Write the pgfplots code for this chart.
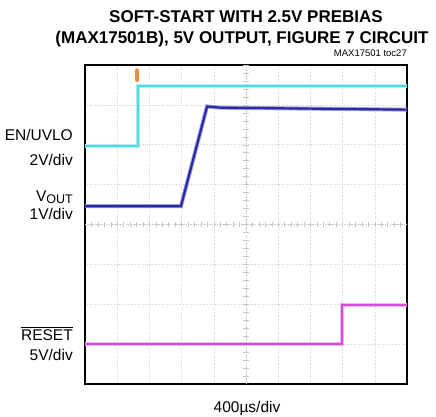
\documentclass[border=0pt]{standalone}
\usepackage{fontspec}
\setmainfont{Liberation Sans}
\usepackage{pgfplots}
\pgfplotsset{compat=1.18}
\definecolor{cyantr}{RGB}{80,218,224}
\definecolor{bluetr}{RGB}{42,42,168}
\definecolor{magtr}{RGB}{215,75,215}
\definecolor{orgtr}{RGB}{238,140,60}
\begin{document}
\begin{tikzpicture}
\path[use as bounding box] (0pt,0pt) rectangle (436pt,417pt);
\begin{axis}[at={(85pt,33pt)}, anchor=south west, scale only axis,
  width=322pt, height=319pt, xmin=0, xmax=10, ymin=0, ymax=8,
  xtick={1,...,9}, ytick={1,...,7}, xticklabels={}, yticklabels={},
  major tick length=0pt, grid=major,
  grid style={gray!35, dotted, line width=0.6pt},
  axis line style={line width=2.5pt}, clip=true]
% centre graticule with small ticks
\draw[gray!50, dotted, line width=0.7pt] (axis cs:0,4) -- (axis cs:10,4);
\draw[gray!50, dotted, line width=0.7pt] (axis cs:5,0) -- (axis cs:5,8);
\pgfplotsinvokeforeach{0.2,0.4,...,9.9}{
  \draw[gray!45, line width=0.5pt] (axis cs:#1,3.93) -- (axis cs:#1,4.07);
}
\pgfplotsinvokeforeach{0.2,0.4,...,7.9}{
  \draw[gray!45, line width=0.5pt] (axis cs:4.92,#1) -- (axis cs:5.08,#1);
}
% EN/UVLO (cyan)
\addplot[cyantr!45, line width=4pt, forget plot] coordinates {(0,5.97) (1.65,5.97) (1.65,7.47) (10,7.47)};
\addplot[cyantr, line width=2pt] coordinates {(0,5.97) (1.65,5.97) (1.65,7.47) (10,7.47)};
% trigger marker
\addplot[orgtr, line width=4.5pt, line cap=round] coordinates {(1.62,7.63) (1.62,7.86)};
% VOUT (blue)
\addplot[bluetr!45, line width=4pt, forget plot] coordinates {(0,4.46) (2.98,4.46) (3.79,6.96) (4.2,6.93) (10,6.88)};
\addplot[bluetr, line width=2.2pt] coordinates {(0,4.46) (2.98,4.46) (3.79,6.96) (4.2,6.93) (10,6.88)};
% RESET (magenta)
\addplot[magtr!40, line width=4pt, forget plot] coordinates {(0,1.0) (7.98,1.0) (7.98,1.98) (10,1.98)};
\addplot[magtr, line width=2pt] coordinates {(0,1.0) (7.98,1.0) (7.98,1.98) (10,1.98)};
\end{axis}
% titles
\node[anchor=base, inner sep=0pt, font=\bfseries\fontsize{17}{20}\selectfont] at (246pt,394pt) {SOFT-START WITH 2.5V PREBIAS};
\node[anchor=base, inner sep=0pt, font=\bfseries\fontsize{17}{20}\selectfont] at (242pt,373pt) {(MAX17501B), 5V OUTPUT, FIGURE 7 CIRCUIT};
\node[anchor=base east, inner sep=0pt, font=\fontsize{9.5}{11}\selectfont] at (407pt,360pt) {MAX17501 toc27};
% channel labels
\node[anchor=base east, inner sep=0pt, font=\fontsize{15.5}{18}\selectfont] at (73pt,276pt) {EN/UVLO};
\node[anchor=base east, inner sep=0pt, font=\fontsize{15.5}{18}\selectfont] at (73pt,251pt) {2V/div};
\node[anchor=base east, inner sep=0pt, font=\fontsize{15.5}{18}\selectfont] at (73pt,215pt) {V\raisebox{-1.5pt}{\fontsize{12.5}{14}\selectfont OUT}};
\node[anchor=base east, inner sep=0pt, font=\fontsize{15.5}{18}\selectfont] at (73pt,197pt) {1V/div};
\node[anchor=base east, inner sep=0pt, font=\fontsize{15.5}{18}\selectfont] (rst) at (73pt,76pt) {RESET};
\draw[line width=0.9pt] ([yshift=2.6pt]rst.north west) -- ([yshift=2.6pt]rst.north east);
\node[anchor=base east, inner sep=0pt, font=\fontsize{15.5}{18}\selectfont] at (73pt,56pt) {5V/div};
\node[anchor=base, inner sep=0pt, font=\fontsize{15.5}{18}\selectfont] at (247pt,4pt) {400µs/div};
\end{tikzpicture}
\end{document}
